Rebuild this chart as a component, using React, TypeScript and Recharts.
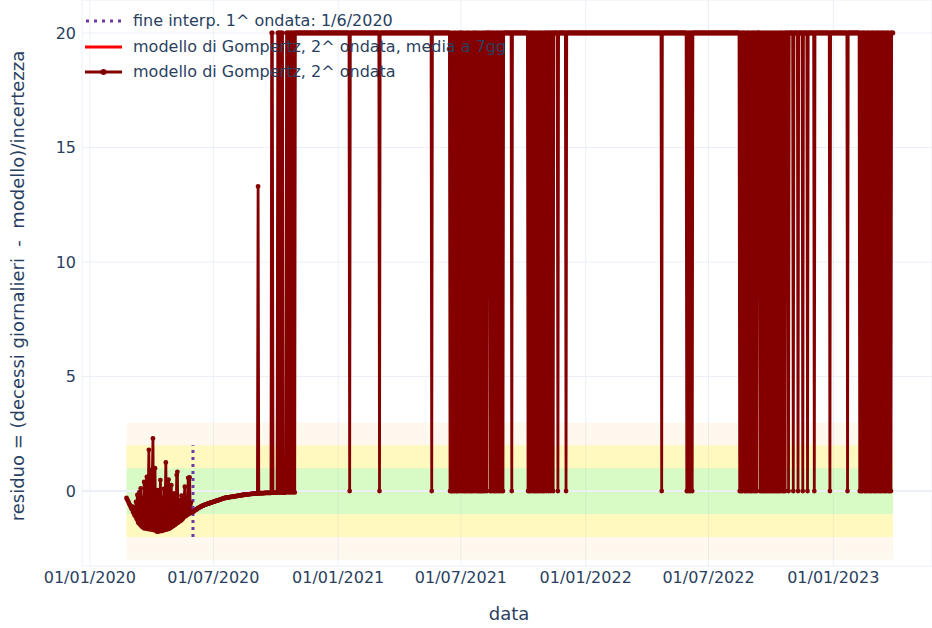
import React from 'react';
import { LineChart, Line, XAxis, YAxis, CartesianGrid, ReferenceArea, ReferenceLine } from 'recharts';

// ---------------- data ----------------
const xTickDates = ['2020-01-01', '2020-07-01', '2021-01-01', '2021-07-01', '2022-01-01', '2022-07-01', '2023-01-01'];
const yTicks = [0, 5, 10, 15, 20];

const legendLabels = [
  'fine interp. 1^ ondata: 1/6/2020',
  'modello di Gompertz, 2^ ondata, media a 7gg',
  'modello di Gompertz, 2^ ondata',
];

const firstWaveEndDate = '2020-06-01';
const firstWaveMarkerRange = [-2, 2];

const bandStartDate = '2020-02-24';
const bandEndDate = '2023-03-30';
const bandLimits = [3, 2, 1];

// daily residuals from 2020-02-24 to 2020-05-31
const earlyStart = '2020-02-24';
const earlyResiduals = [
  -0.30, -0.36, -0.42, -0.48, -0.55, -0.61, -0.67, -0.73, -0.80, -0.68,
  -0.92, -0.98, -1.04, -1.10, -0.47, -1.22, -0.17, -1.34, -1.40, -0.05,
  -1.46, 0.12, -1.52, -1.56, -0.30, -1.60, 0.40, -1.62, -1.63, 0.30,
  0.62, -1.65, -0.20, 1.80, -1.67, 0.92, -0.40, -1.68, 0.60, 2.30,
  -1.70, -0.10, 1.00, -1.72, -0.60, -1.77, 0.04, -1.76, -0.80, -1.75,
  0.48, -1.74, -0.30, -1.73, -1.20, 0.10, -1.70, -0.50, 1.25, -1.68,
  -0.20, -1.66, 0.50, -1.64, -1.00, -1.60, 0.26, -1.56, -0.70, -1.52,
  -0.10, -1.48, -1.10, -1.44, 0.70, 0.84, -1.38, -0.40, -1.33, -0.90,
  -1.29, -0.20, -1.24, -1.20, -1.15, -0.30, 0.19, -1.10, -0.60, -1.05,
  -1.02, 0.58, -0.99, 0.60, -0.96, -0.50, -0.93, -0.91,
];

// daily residuals from 2020-06-01 to 2020-10-29
const summerStart = '2020-06-01';
const summerResiduals = [
  -0.90, -0.88, -0.86, -0.84, -0.82, -0.80, -0.78, -0.76, -0.74, -0.72,
  -0.70, -0.69, -0.67, -0.66, -0.64, -0.63, -0.62, -0.60, -0.59, -0.58,
  -0.57, -0.56, -0.55, -0.54, -0.53, -0.52, -0.51, -0.50, -0.49, -0.48,
  -0.47, -0.46, -0.45, -0.44, -0.43, -0.42, -0.41, -0.40, -0.39, -0.38,
  -0.37, -0.36, -0.35, -0.34, -0.33, -0.32, -0.31, -0.30, -0.30, -0.29,
  -0.28, -0.28, -0.27, -0.27, -0.26, -0.26, -0.25, -0.25, -0.25, -0.24,
  -0.24, -0.23, -0.23, -0.22, -0.22, -0.21, -0.21, -0.20, -0.20, -0.19,
  -0.19, -0.18, -0.18, -0.17, -0.17, -0.16, -0.16, -0.15, -0.15, -0.15,
  -0.14, -0.14, -0.14, -0.13, -0.13, -0.13, -0.12, -0.12, -0.12, -0.11,
  -0.11, -0.11, -0.11, -0.10, -0.10, -0.10, 13.3, -0.10, -0.10, -0.09,
  -0.09, -0.09, -0.09, -0.09, -0.09, -0.09, -0.08, -0.08, -0.08, -0.08,
  -0.08, -0.08, -0.08, -0.08, -0.08, -0.08, 20, 20, -0.07, -0.07,
  -0.07, -0.07, -0.07, -0.07, -0.07, 20, 20, 20, -0.07, 20,
  20, -0.07, 20, -0.06, -0.06, -0.06, -0.06, -0.06, 20, 20,
  20, -0.06, 20, 20, -0.06, 20, 20, -0.06, 20, 20,
  -0.06,
];

// from 2020-10-30 to 2023-03-30 the residual sits at the top (20) except on these days (0)
const plateauStart = '2020-10-30';
const plateauEnd = '2023-03-30';
const plateauValue = 20;
const zeroDates = [
  '2021-01-18', '2021-03-03', '2021-05-19',
  '2021-06-15', '2021-06-17', '2021-06-18', '2021-06-20', '2021-06-22', '2021-06-24', '2021-06-25',
  '2021-06-27', '2021-06-29', '2021-07-02', '2021-07-04', '2021-07-06', '2021-07-07', '2021-07-09',
  '2021-07-11', '2021-07-13', '2021-07-15', '2021-07-16', '2021-07-18', '2021-07-20', '2021-07-23',
  '2021-07-25', '2021-07-27', '2021-07-29', '2021-07-30', '2021-08-01', '2021-08-03', '2021-08-05',
  '2021-08-08',
  '2021-08-13', '2021-08-15', '2021-08-18', '2021-08-20', '2021-08-22', '2021-08-25', '2021-08-27',
  '2021-08-30', '2021-09-01',
  '2021-09-14',
  '2021-10-08', '2021-10-10', '2021-10-12', '2021-10-15', '2021-10-17', '2021-10-19', '2021-10-21',
  '2021-10-23', '2021-10-25', '2021-10-28', '2021-10-30', '2021-11-01', '2021-11-04', '2021-11-07',
  '2021-11-10', '2021-11-14',
  '2021-11-21', '2021-12-03',
  '2022-04-23', '2022-05-30', '2022-06-01', '2022-06-04', '2022-06-07',
  '2022-08-16', '2022-08-18', '2022-08-20', '2022-08-23', '2022-08-25', '2022-08-27', '2022-08-30',
  '2022-09-01', '2022-09-03', '2022-09-06', '2022-09-08', '2022-09-10',
  '2022-09-15', '2022-09-17', '2022-09-19', '2022-09-21', '2022-09-23', '2022-09-25', '2022-09-27',
  '2022-09-29', '2022-10-01', '2022-10-03', '2022-10-05', '2022-10-07', '2022-10-09', '2022-10-11',
  '2022-10-13', '2022-10-15', '2022-10-18', '2022-10-20', '2022-10-22',
  '2022-10-27', '2022-11-03', '2022-11-10', '2022-11-17', '2022-11-24', '2022-12-04',
  '2022-12-27',
  '2023-01-22',
  '2023-02-09', '2023-02-11', '2023-02-13', '2023-02-16', '2023-02-18', '2023-02-20', '2023-02-23',
  '2023-02-25', '2023-02-27', '2023-03-02', '2023-03-04', '2023-03-06', '2023-03-09', '2023-03-11',
  '2023-03-13', '2023-03-16', '2023-03-18', '2023-03-20', '2023-03-23', '2023-03-25', '2023-03-27',
];

// ---------------- helpers ----------------
const EPOCH = Date.UTC(2020, 0, 1);
const DAY_MS = 86400000;
const toDay = (s: string) => {
  const [y, m, d] = s.split('-').map(Number);
  return Math.round((Date.UTC(y, m - 1, d) - EPOCH) / DAY_MS);
};
const pad = (n: number) => (n < 10 ? '0' + n : '' + n);
const fmtDay = (day: number) => {
  const dt = new Date(EPOCH + day * DAY_MS);
  return `${pad(dt.getUTCDate())}/${pad(dt.getUTCMonth() + 1)}/${dt.getUTCFullYear()}`;
};

const data: { day: number; res: number }[] = [];
earlyResiduals.forEach((v, i) => data.push({ day: toDay(earlyStart) + i, res: v }));
summerResiduals.forEach((v, i) => data.push({ day: toDay(summerStart) + i, res: v }));
const zeroSet = new Set(zeroDates.map(toDay));
for (let d = toDay(plateauStart); d <= toDay(plateauEnd); d++) {
  data.push({ day: d, res: zeroSet.has(d) ? 0 : plateauValue });
}

const xTicks = xTickDates.map(toDay);
const bandX1 = toDay(bandStartDate);
const bandX2 = toDay(bandEndDate);
const firstWaveDay = toDay(firstWaveEndDate);

// ---------------- style ----------------
const FONT = '"DejaVu Sans", Verdana, sans-serif';
const TEXT = '#2a3f5f';
const GRID = '#ebf0f8';
const TRACE = '#840000';
const PURPLE = '#6c3aa8';

const W = 932;
const H = 628;
const PLOT_LEFT = 82;
const PLOT_BOTTOM = 566;
const X_DOMAIN: [number, number] = [-11.6, 1241.5];
const Y_DOMAIN: [number, number] = [-3.27, 21.44];

const bandFills = [
  { fill: '#ffc878', opacity: 0.12 },
  { fill: '#ffff00', opacity: 0.2 },
  { fill: '#00ffe6', opacity: 0.153 },
];

function LegendSymbol({ kind }: { kind: number }) {
  return (
    <svg width={40} height={12} style={{ display: 'block' }}>
      {kind === 0 && (
        <line x1={2} y1={6} x2={38} y2={6} stroke={PURPLE} strokeWidth={3} strokeDasharray="3 5" />
      )}
      {kind === 1 && <line x1={1} y1={6} x2={38} y2={6} stroke="#ff0000" strokeWidth={3} />}
      {kind === 2 && (
        <g>
          <line x1={1} y1={6} x2={38} y2={6} stroke={TRACE} strokeWidth={3} />
          <circle cx={19.5} cy={6} r={3} fill={TRACE} />
        </g>
      )}
    </svg>
  );
}

export default function App() {
  const legendRows = [21, 47, 72];
  return (
    <div
      style={{
        position: 'absolute',
        left: 0,
        top: 0,
        width: W,
        height: H,
        background: '#fff',
        fontFamily: FONT,
        overflow: 'hidden',
      }}
    >
      <LineChart width={W} height={H} data={data} margin={{ top: 0, right: 0, bottom: 0, left: 0 }}>
        <CartesianGrid stroke={GRID} strokeWidth={1} />
        {bandLimits.map((b, i) => (
          <ReferenceArea
            key={b}
            x1={bandX1}
            x2={bandX2}
            y1={-b}
            y2={b}
            fill={bandFills[i].fill}
            fillOpacity={bandFills[i].opacity}
            stroke="none"
          />
        ))}
        <ReferenceLine y={0} stroke={GRID} strokeWidth={2} />
        <XAxis
          dataKey="day"
          type="number"
          domain={X_DOMAIN}
          allowDataOverflow
          ticks={xTicks}
          interval={0}
          tickFormatter={fmtDay}
          axisLine={false}
          tickLine={false}
          tickSize={0}
          tickMargin={6}
          height={H - PLOT_BOTTOM}
          tick={{ fill: TEXT, fontSize: 16, fontFamily: FONT }}
        />
        <YAxis
          type="number"
          domain={Y_DOMAIN}
          allowDataOverflow
          ticks={yTicks}
          interval={0}
          axisLine={false}
          tickLine={false}
          tickSize={0}
          tickMargin={6}
          width={PLOT_LEFT}
          tick={{ fill: TEXT, fontSize: 16, fontFamily: FONT }}
        />
        <Line
          dataKey="res"
          type="linear"
          stroke={TRACE}
          strokeWidth={2.8}
          dot={{ r: 2.4, fill: TRACE, stroke: 'none' }}
          activeDot={false}
          isAnimationActive={false}
        />
        <ReferenceLine
          segment={[
            { x: firstWaveDay, y: firstWaveMarkerRange[0] },
            { x: firstWaveDay, y: firstWaveMarkerRange[1] },
          ]}
          stroke={PURPLE}
          strokeWidth={3}
          strokeDasharray="3 4"
        />
      </LineChart>

      {/* y axis title */}
      <div
        style={{
          position: 'absolute',
          left: 18,
          top: 286,
          transform: 'translate(-50%, -50%) rotate(-90deg)',
          whiteSpace: 'pre',
          fontSize: 18,
          color: TEXT,
          lineHeight: '20px',
        }}
      >
        {'residuo = (decessi giornalieri  -  modello)/incertezza'}
      </div>

      {/* x axis title */}
      <div
        style={{
          position: 'absolute',
          left: 509,
          top: 614,
          transform: 'translate(-50%, -50%)',
          whiteSpace: 'pre',
          fontSize: 18,
          color: TEXT,
          lineHeight: '20px',
        }}
      >
        data
      </div>

      {/* legend */}
      {legendLabels.map((lab, i) => (
        <div
          key={lab}
          style={{
            position: 'absolute',
            left: 84,
            top: legendRows[i],
            transform: 'translateY(-50%)',
            display: 'flex',
            alignItems: 'center',
            whiteSpace: 'pre',
            fontSize: 16,
            color: TEXT,
            lineHeight: '18px',
          }}
        >
          <LegendSymbol kind={i} />
          <span style={{ marginLeft: 9 }}>{lab}</span>
        </div>
      ))}
    </div>
  );
}
